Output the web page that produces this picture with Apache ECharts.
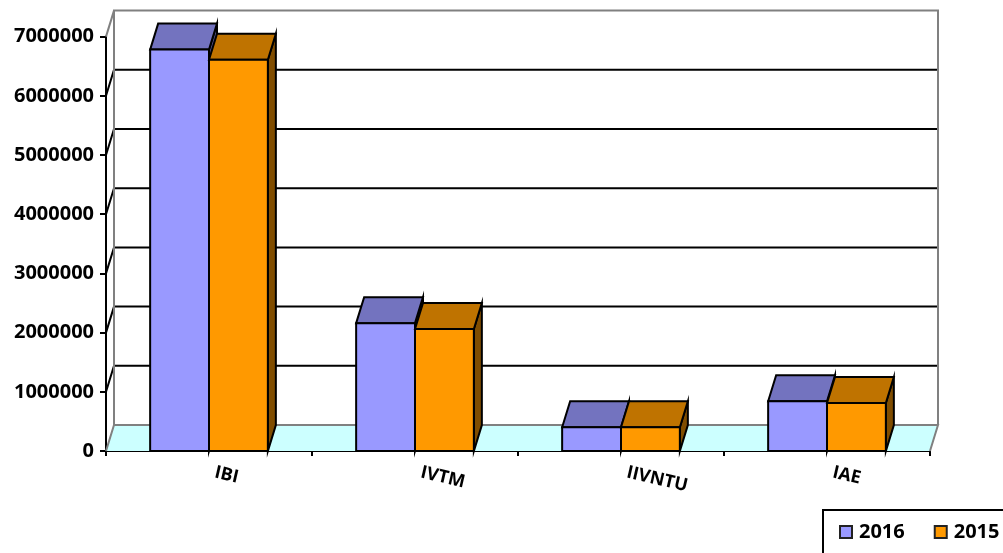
<!DOCTYPE html>
<html>
<head>
<meta charset="utf-8">
<style>html,body{margin:0;padding:0;background:#fff;overflow:hidden}#c{width:1003px;height:553px}</style>
<script src="https://cdn.jsdelivr.net/npm/echarts@6/dist/echarts.min.js"></script>
</head>
<body>
<div id="c"></div>
<script>
const categories = ['IBI', 'IVTM', 'IIVNTU', 'IAE'];
const values2016 = [6780000, 2160000, 400000, 840000];
const values2015 = [6610000, 2060000, 400000, 810000];
const yTicks = [0, 1000000, 2000000, 3000000, 4000000, 5000000, 6000000, 7000000];

const DX = 8, DY = -26;
const FONT = '"Open Sans"';

function floorItem(params, api) {
  const cs = params.coordSys;
  const y = api.coord([0, 0])[1];
  const l = cs.x, r = cs.x + cs.width;
  return {
    type: 'group',
    children: [{
      type: 'polygon',
      shape: { points: [[l, y], [l + DX, y + DY], [r + DX, y + DY], [r, y]] },
      style: { fill: '#CCFFFF', stroke: 'none' }
    }, {
      type: 'polyline',
      shape: { points: [[l, y], [l + DX, y + DY], [r + DX, y + DY], [r, y]] },
      style: { fill: 'none', stroke: '#808080', lineWidth: 2 }
    }]
  };
}

function wallItem(params, api) {
  const cs = params.coordSys;
  const v = api.value(0);
  const y = api.coord([0, v])[1];
  const l = cs.x, r = cs.x + cs.width;
  const isEdge = v === yTicks[0] || v === yTicks[yTicks.length - 1];
  const children = [];
  if (v === yTicks[yTicks.length - 1]) {
    const yBottom = api.coord([0, 0])[1];
    children.push({
      type: 'polyline',
      shape: { points: [[l + DX, yBottom + DY], [l + DX, y + DY], [r + DX, y + DY], [r + DX, yBottom + DY]] },
      style: { fill: 'none', stroke: '#808080', lineWidth: 2 }
    });
  }
  if (v !== yTicks[0]) {
    children.push({
      type: 'polyline',
      shape: { points: isEdge ? [[l, y], [l + DX, y + DY]] : [[l, y], [l + DX, y + DY], [r + DX, y + DY]] },
      style: { fill: 'none', stroke: isEdge ? '#808080' : '#000', lineWidth: 2 }
    });
  }
  return { type: 'group', children };
}

function barRenderer(seriesOffset, front, top, side) {
  return function (params, api) {
    const idx = api.value(0);
    const base = api.coord([idx, 0]);
    const tip = api.coord([idx, api.value(1)]);
    const w = api.size([1, 0])[0] / 3.5;
    const x0 = base[0] + seriesOffset * w;
    const x1 = x0 + w;
    const yb = base[1], yt = tip[1];
    const line = { stroke: '#000', lineWidth: 2, lineJoin: 'miter' };
    return {
      type: 'group',
      children: [{
        type: 'polygon',
        shape: { points: [[x1, yt], [x1 + DX, yt + DY], [x1 + DX, yb + DY], [x1, yb]] },
        style: Object.assign({ fill: side }, line)
      }, {
        type: 'polygon',
        shape: { points: [[x0, yt], [x0 + DX, yt + DY], [x1 + DX, yt + DY], [x1, yt]] },
        style: Object.assign({ fill: top }, line)
      }, {
        type: 'polygon',
        shape: { points: [[x0, yb], [x0, yt], [x1, yt], [x1, yb]] },
        style: Object.assign({ fill: front }, line)
      }]
    };
  };
}

const chart = echarts.init(document.getElementById('c'), null, { renderer: 'canvas' });
chart.setOption({
  animation: false,
  backgroundColor: '#fff',
  grid: { left: 106, right: 73, top: 36.6, bottom: 102, containLabel: false },
  xAxis: {
    type: 'category',
    data: categories,
    boundaryGap: true,
    axisLine: { show: true, lineStyle: { color: '#000', width: 2 } },
    axisTick: { show: true, length: 5, inside: false, lineStyle: { color: '#000', width: 2 } },
    axisLabel: { rotate: -13, margin: 20, color: '#000', fontFamily: FONT, fontWeight: 'bold', fontSize: 18, align: 'left', padding: [0, 0, 0, 6] }
  },
  yAxis: {
    type: 'value',
    min: 0,
    max: 7000000,
    interval: 1000000,
    splitLine: { show: false },
    axisLine: { show: true, lineStyle: { color: '#000', width: 2 } },
    axisTick: { show: true, length: 6, lineStyle: { color: '#000', width: 2 } },
    axisLabel: { margin: 12, color: '#000', fontFamily: FONT, fontWeight: 'bold', fontSize: 20, formatter: function (v) { return String(v); } }
  },
  legend: {
    left: 823,
    top: 510,
    width: 190,
    data: ['2016', '2015'],
    orient: 'horizontal',
    icon: 'rect',
    itemWidth: 12,
    itemHeight: 12,
    itemGap: 29,
    padding: [12, 22, 30, 16],
    borderColor: '#000',
    borderWidth: 2,
    backgroundColor: '#fff',
    selectedMode: false,
    textStyle: { color: '#000', fontFamily: FONT, fontWeight: 'bold', fontSize: 20, padding: [0, 0, 0, 2] }
  },
  series: [
    { type: 'custom', name: 'floor', z: 1, coordinateSystem: 'cartesian2d', data: [0], silent: true, renderItem: floorItem,
      encode: { x: -1, y: 0 } },
    { type: 'custom', name: 'walls', z: 1, coordinateSystem: 'cartesian2d', data: yTicks.map(v => [v]), silent: true, renderItem: wallItem,
      encode: { x: -1, y: 0 } },
    { type: 'custom', name: '2016', z: 3, coordinateSystem: 'cartesian2d',
      data: values2016.map((v, i) => [i, v]), encode: { x: 0, y: 1 },
      itemStyle: { color: '#9999FF', borderColor: '#222', borderWidth: 2 },
      renderItem: barRenderer(-1, '#9999FF', '#7373BF', '#4D4D80') },
    { type: 'custom', name: '2015', z: 4, coordinateSystem: 'cartesian2d',
      data: values2015.map((v, i) => [i, v]), encode: { x: 0, y: 1 },
      itemStyle: { color: '#FF9900', borderColor: '#222', borderWidth: 2 },
      renderItem: barRenderer(0, '#FF9900', '#BF7300', '#804D00') }
  ]
});
</script>
</body>
</html>
